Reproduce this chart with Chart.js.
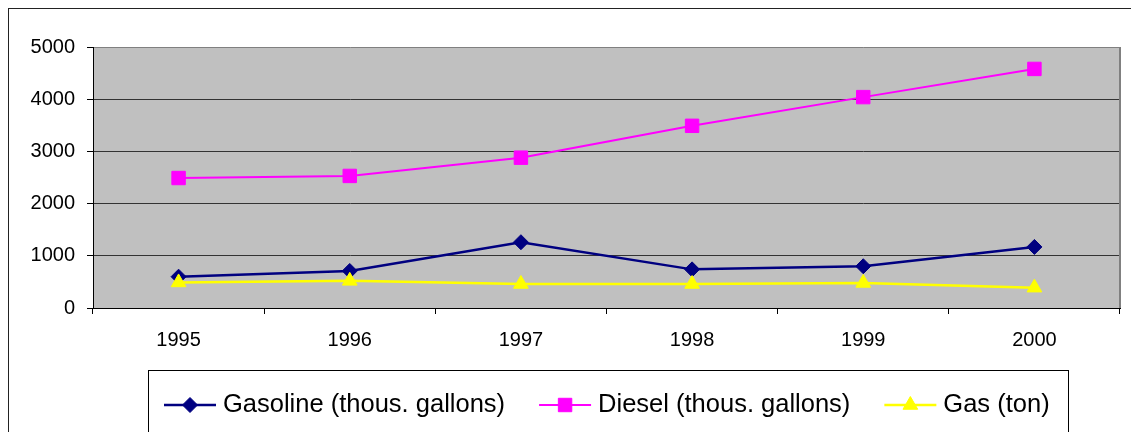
<!DOCTYPE html>
<html>
<head>
<meta charset="utf-8">
<script src="https://cdn.jsdelivr.net/npm/chart.js@4/dist/chart.umd.min.js"></script>
<style>
    body { margin: 0; background: #fff; }
    #grafico { display: block; }
</style>
</head>
<body>
<canvas id="grafico" width="1131" height="432"></canvas>
<script>
// Datos del gráfico
const anios = ['1995', '1996', '1997', '1998', '1999', '2000'];
const gasolina = [600, 710, 1260, 740, 800, 1170];
const diesel = [2490, 2530, 2880, 3490, 4040, 4580];
const gas = [490, 520, 460, 460, 480, 390];
const nombresSeries = ['Gasoline (thous. gallons)', 'Diesel (thous. gallons)', 'Gas (ton)'];
const ejeYMax = 5000;
const ejeYPaso = 1000;

const fuente = 'Arial, "Liberation Sans", sans-serif';

// Dibujar un marcador como los de Chart.js (para la leyenda)
function dibujarMarcador(ctx, estilo, x, y, r) {
    ctx.beginPath();
    if (estilo === 'rect') {
        const s = r * Math.SQRT1_2;
        ctx.rect(x - s, y - s, 2 * s, 2 * s);
    } else if (estilo === 'rectRot') {
        ctx.moveTo(x, y - r);
        ctx.lineTo(x + r, y);
        ctx.lineTo(x, y + r);
        ctx.lineTo(x - r, y);
        ctx.closePath();
    } else if (estilo === 'triangle') {
        for (let i = 0; i < 3; i++) {
            const a = i * 2 * Math.PI / 3;
            ctx.lineTo(x + Math.sin(a) * r, y - Math.cos(a) * r);
        }
        ctx.closePath();
    }
    ctx.fill();
    ctx.stroke();
}

// Fondo, marco exterior y área gris del gráfico
const fondoPlugin = {
    id: 'fondo',
    beforeDraw(chart) {
        const { ctx, chartArea: a } = chart;
        ctx.save();
        ctx.fillStyle = '#fff';
        ctx.fillRect(0, 0, chart.width, chart.height);
        ctx.strokeStyle = '#222';
        ctx.lineWidth = 1;
        ctx.strokeRect(8.5, 8.5, 1300, 1000);
        ctx.fillStyle = '#c0c0c0';
        ctx.fillRect(a.left, a.top, a.right - a.left, a.bottom - a.top);
        ctx.restore();
    },
    beforeDatasetsDraw(chart) {
        const { ctx, chartArea: a } = chart;
        ctx.save();
        ctx.strokeStyle = '#808080';
        ctx.lineWidth = 2;
        ctx.beginPath();
        ctx.moveTo(a.right, a.top);
        ctx.lineTo(a.right, a.bottom);
        ctx.stroke();
        ctx.restore();
    }
};

// Leyenda estilo Excel: línea + marcador + texto, dentro de un recuadro
const leyendaPlugin = {
    id: 'leyenda',
    afterDraw(chart) {
        const ctx = chart.ctx;
        ctx.save();
        ctx.strokeStyle = '#000';
        ctx.lineWidth = 1;
        ctx.strokeRect(148.5, 370.5, 920, 100);
        ctx.font = '25.5px ' + fuente;
        ctx.textBaseline = 'middle';
        ctx.textAlign = 'left';
        let x = 164;
        const y = 405;
        chart.data.datasets.forEach(ds => {
            ctx.strokeStyle = ds.borderColor;
            ctx.lineWidth = ds.borderWidth;
            ctx.beginPath();
            ctx.moveTo(x, y);
            ctx.lineTo(x + 52, y);
            ctx.stroke();
            ctx.fillStyle = ds.pointBackgroundColor;
            ctx.strokeStyle = ds.pointBorderColor;
            ctx.lineWidth = 1;
            dibujarMarcador(ctx, ds.pointStyle, x + 26, y, ds.pointRadius);
            ctx.fillStyle = '#000';
            ctx.fillText(ds.label, x + 59, y);
            x += 59 + ctx.measureText(ds.label).width + 34;
        });
        ctx.restore();
    }
};

function serie(nombre, datos, color, estilo, radio, grosor, orden) {
    return {
        label: nombre,
        data: datos,
        borderColor: color,
        backgroundColor: color,
        borderWidth: grosor,
        pointStyle: estilo,
        pointRadius: radio,
        pointBackgroundColor: color,
        pointBorderColor: color,
        pointBorderWidth: 1,
        tension: 0,
        order: orden
    };
}

new Chart(document.getElementById('grafico'), {
    type: 'line',
    data: {
        labels: anios,
        datasets: [
            serie(nombresSeries[0], gasolina, '#000080', 'rectRot', 7.5, 2.5, 3),
            serie(nombresSeries[1], diesel, '#ff00ff', 'rect', 9.5, 2, 2),
            serie(nombresSeries[2], gas, '#ffff00', 'triangle', 8.5, 2.5, 1)
        ]
    },
    options: {
        responsive: false,
        animation: false,
        events: [],
        layout: { padding: { top: 47, right: 11, left: 0, bottom: 0 } },
        plugins: {
            legend: { display: false },
            tooltip: { enabled: false }
        },
        scales: {
            x: {
                offset: true,
                grid: { offset: true, drawOnChartArea: false, tickLength: 6, color: '#000' },
                border: { color: '#000' },
                ticks: { color: '#000', font: { family: fuente, size: 20 }, padding: 14, maxRotation: 0 },
                afterFit(s) { s.height = 124; }
            },
            y: {
                min: 0,
                max: ejeYMax,
                ticks: {
                    stepSize: ejeYPaso,
                    color: '#000',
                    font: { family: fuente, size: 20 },
                    padding: 12,
                    callback: v => String(v)
                },
                grid: {
                    color: c => (c.tick && c.tick.value === ejeYMax) ? '#808080' : '#333',
                    tickColor: '#000',
                    tickLength: 6
                },
                border: { color: '#000' },
                afterFit(s) { s.width = 93; }
            }
        }
    },
    plugins: [fondoPlugin, leyendaPlugin]
});
</script>
</body>
</html>
